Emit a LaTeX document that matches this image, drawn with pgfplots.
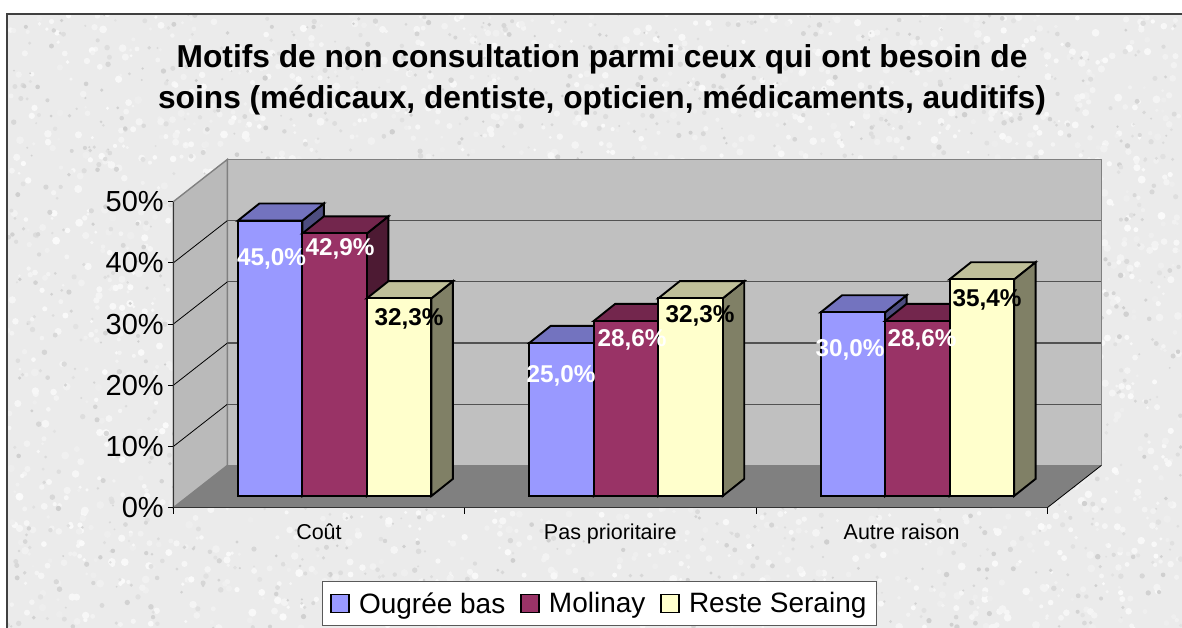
\documentclass[border=0pt]{standalone}
\usepackage{fontspec}
\setmainfont{Liberation Sans}
\usepackage{pgfplots}
\usepackage{pgfplotstable}
\pgfplotsset{compat=1.18}
\definecolor{sa}{HTML}{9999FF}\definecolor{sat}{HTML}{7373BF}\definecolor{sas}{HTML}{4D4D80}
\definecolor{sb}{HTML}{993366}\definecolor{sbt}{HTML}{73264D}\definecolor{sbs}{HTML}{4D1A33}
\definecolor{sc}{HTML}{FFFFCC}\definecolor{sct}{HTML}{BFBF99}\definecolor{scs}{HTML}{808066}
\definecolor{wall}{HTML}{C0C0C0}\definecolor{edge}{HTML}{808080}
% values in percent
\pgfplotstableread{
x v
0 45.0
1 25.0
2 30.0
}\dataA
\pgfplotstableread{
x v
0 42.9
1 28.6
2 28.6
}\dataB
\pgfplotstableread{
x v
0 32.3
1 32.3
2 35.4
}\dataC
\newcommand{\dx}{0.0738}% bar depth, x units
\newcommand{\dy}{2.8}% bar depth, percent
% #1 right edge of the front face, #2 value, #3 side colour, #4 top colour, #5 left edge
\newcommand{\faces}[5]{%
  \pgfmathsetmacro{\xr}{#1}\pgfmathsetmacro{\xl}{#5}%
  \pgfmathsetmacro{\xb}{#1+\dx}\pgfmathsetmacro{\xlb}{#5+\dx}%
  \pgfmathsetmacro{\yb}{#2+\dy}%
  \addplot[forget plot,draw=black,line width=1.9pt,line join=miter,fill=#3] coordinates {(\xr,0)(\xb,\dy)(\xb,\yb)(\xr,#2)} -- cycle;
  \addplot[forget plot,draw=black,line width=1.9pt,line join=miter,fill=#4] coordinates {(\xl,#2)(\xlb,\yb)(\xb,\yb)(\xr,#2)} -- cycle;
}
\newcommand{\lab}[4]{\node[font=\fontsize{24.3}{24}\selectfont\bfseries,text=#4,inner sep=0pt] at (#1pt,{626pt-#2pt}) {#3};}
\begin{document}
\begin{tikzpicture}[x=1pt,y=1pt]
\path[use as bounding box] (0,0) rectangle (1182,628);
\fill[white] (0,0) rectangle (1182,628);
\fill[black!8] (7,0) rectangle (1182,614);
\begin{scope}
\clip (7,0) rectangle (1182,614);
\pgfmathsetseed{4711}
\foreach \i in {1,...,2800}{
  \pgfmathsetmacro{\px}{7+rnd*1175}\pgfmathsetmacro{\py}{rnd*614}\pgfmathsetmacro{\rr}{1.5+rnd*2.5}\pgfmathsetmacro{\g}{2+rnd*5}
  \fill[black!\g] (\px,\py) circle (\rr);
}
\foreach \i in {1,...,1700}{
  \pgfmathsetmacro{\px}{7+rnd*1175}\pgfmathsetmacro{\py}{rnd*614}\pgfmathsetmacro{\rr}{1+rnd*1.8}\pgfmathsetmacro{\g}{11+rnd*8}
  \fill[black!\g] (\px,\py) circle (\rr);
}
\end{scope}
\draw[black!75,line width=1.4pt] (7,0) -- (7,614) -- (1182,614);
\node[font=\fontsize{31.7}{41.5}\selectfont\bfseries,align=center,inner sep=0pt] at (602,{628-80}) {Motifs de non consultation parmi ceux qui ont besoin de\\soins (médicaux, dentiste, opticien, médicaments, auditifs)};
% walls, floor, scale
\begin{axis}[at={(173.3pt,120.3pt)},anchor=south west,scale only axis,width=874pt,height=306pt,
  xmin=-0.5,xmax=2.5,ymin=0,ymax=50,clip=false,axis on top,
  axis x line=bottom,axis y line=left,axis line style={-,black!80,line width=1.3pt},
  xtick={0,1,2},xticklabels={Coût,Pas prioritaire,Autre raison},
  minor xtick={-0.5,0.5,1.5,2.5},
  major x tick style={draw=none},
  minor tick length=6pt,
  minor x tick style={black,line width=0.8pt},
  ytick={0,10,20,30,40,50},yticklabels={0\%,10\%,20\%,30\%,40\%,50\%},
  major y tick style={black,line width=0.8pt},
  tick align=outside,
  major tick length=5pt,
  xticklabel style={font=\fontsize{21.5}{21}\selectfont,yshift=-8pt},
  yticklabel style={font=\fontsize{29}{29}\selectfont,xshift=-1pt},
  /pgf/number format/assume math mode=true]
\addplot[forget plot,fill=wall,draw=edge,line width=1.4pt] coordinates {(-0.3146,6.9)(2.6854,6.9)(2.6854,56.9)(-0.3146,56.9)} -- cycle;
\addplot[forget plot,fill=wall!97!black,draw=edge,line width=1.4pt] coordinates {(-0.5,0)(-0.3146,6.9)(-0.3146,56.9)(-0.5,50)} -- cycle;
\addplot[forget plot,fill=edge,draw=none] coordinates {(-0.5,0)(-0.3146,6.9)(2.6854,6.9)(2.5,0)} -- cycle;
\addplot[forget plot,black,line width=0.8pt] coordinates {(2.5,0)(2.6854,6.9)};
\addplot[forget plot,black,line width=0.8pt] coordinates {(-0.5,10)(-0.3146,16.9)};
\addplot[forget plot,black,line width=0.8pt] coordinates {(-0.5,20)(-0.3146,26.9)};
\addplot[forget plot,black,line width=0.8pt] coordinates {(-0.5,30)(-0.3146,36.9)};
\addplot[forget plot,black,line width=0.8pt] coordinates {(-0.5,40)(-0.3146,46.9)};
\addplot[forget plot,black!68,line width=1.2pt] coordinates {(-0.3146,16.9)(2.6854,16.9)};
\addplot[forget plot,black!68,line width=1.2pt] coordinates {(-0.3146,26.9)(2.6854,26.9)};
\addplot[forget plot,black!68,line width=1.2pt] coordinates {(-0.3146,36.9)(2.6854,36.9)};
\addplot[forget plot,black!68,line width=1.2pt] coordinates {(-0.3146,46.9)(2.6854,46.9)};
\end{axis}
% bars, one plane behind the front of the scale
\begin{axis}[at={(189pt,132pt)},anchor=south west,scale only axis,width=874pt,height=306pt,
  xmin=-0.5,xmax=2.5,ymin=0,ymax=50,clip=false,hide axis,
  legend columns=3,
  legend style={at={(0.4696,-0.3513)},anchor=center,draw=black!65,line width=1pt,fill=white,
    font=\fontsize{28}{28}\selectfont,inner xsep=8pt,inner ysep=9pt,
    /tikz/every odd column/.append style={column sep=7pt},
    /tikz/every even column/.append style={column sep=13pt}},
  legend image code/.code={\draw[#1,line width=1.6pt] (0pt,-9pt) rectangle (18pt,9pt);}]
\faces{0-0.1107}{45.0}{sas}{sat}{0-0.3321}
\faces{1-0.1107}{25.0}{sas}{sat}{1-0.3321}
\faces{2-0.1107}{30.0}{sas}{sat}{2-0.3321}
\addplot[ybar,bar width=64.5pt,bar shift=-64.5pt,fill=sa,draw=black,line width=1.9pt] table[x=x,y=v] {\dataA};
\addlegendentry{Ougrée bas}
\faces{0+0.1107}{42.9}{sbs}{sbt}{0-0.1107}
\faces{1+0.1107}{28.6}{sbs}{sbt}{1-0.1107}
\faces{2+0.1107}{28.6}{sbs}{sbt}{2-0.1107}
\addplot[ybar,bar width=64.5pt,bar shift=0pt,fill=sb,draw=black,line width=1.9pt] table[x=x,y=v] {\dataB};
\addlegendentry{Molinay}
\faces{0+0.3321}{32.3}{scs}{sct}{0+0.1107}
\faces{1+0.3321}{32.3}{scs}{sct}{1+0.1107}
\faces{2+0.3321}{35.4}{scs}{sct}{2+0.1107}
\addplot[ybar,bar width=64.5pt,bar shift=64.5pt,fill=sc,draw=black,line width=1.9pt] table[x=x,y=v] {\dataC};
\addlegendentry{Reste Seraing}
\end{axis}
\lab{271.5}{257}{45,0\%}{white}
\lab{340}{247}{42,9\%}{white}
\lab{409}{317}{32,3\%}{black}
\lab{561}{374}{25,0\%}{white}
\lab{632}{338}{28,6\%}{white}
\lab{700}{314}{32,3\%}{black}
\lab{850}{348}{30,0\%}{white}
\lab{922}{338}{28,6\%}{white}
\lab{987}{298}{35,4\%}{black}
\end{tikzpicture}
\end{document}
